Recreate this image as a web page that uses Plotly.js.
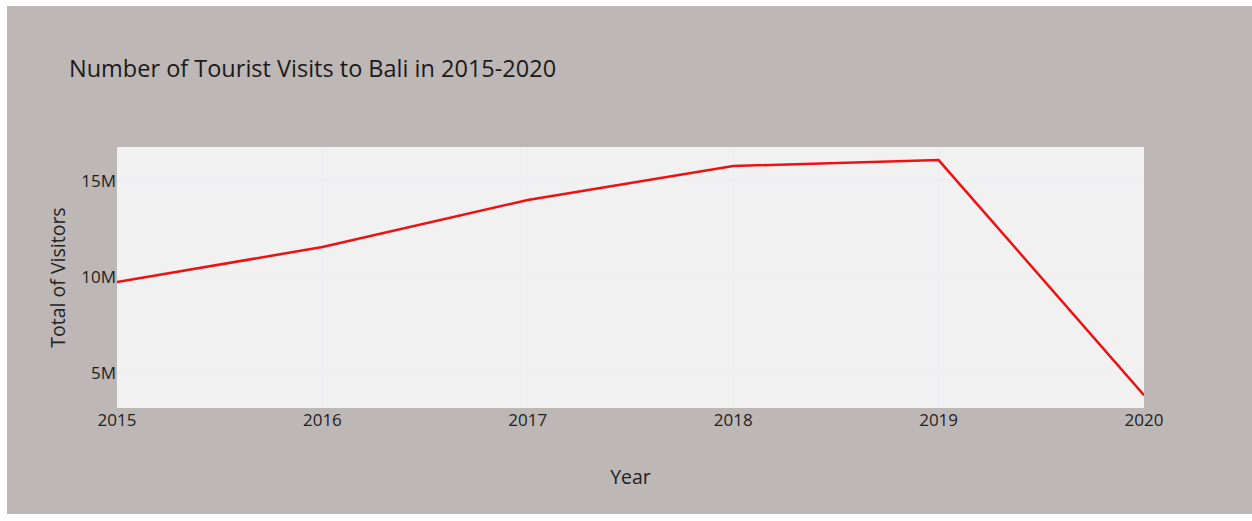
<!DOCTYPE html>
<html>
<head>
<meta charset="utf-8">
<script src="https://cdn.plot.ly/plotly-3.0.1.min.js"></script>
<style>
  html, body { margin: 0; padding: 0; background: #ffffff; overflow: hidden; }
  #chart { position: absolute; left: 7px; top: 6px; width: 1245px; height: 508px; }
</style>
</head>
<body>
<div id="chart"></div>
<script>
const years = [2015, 2016, 2017, 2018, 2019, 2020];
const visitors = [9740000, 11560000, 14010000, 15780000, 16090000, 3850000];
const yTickVals = [5000000, 10000000, 15000000];
const yTickText = ["5M", "10M", "15M"];

const trace = {
  x: years,
  y: visitors,
  type: 'scatter',
  mode: 'lines',
  line: { color: '#ee1111', width: 2.5 },
  hoverinfo: 'x+y'
};

const layout = {
  width: 1245,
  height: 508,
  paper_bgcolor: '#bdb7b6',
  plot_bgcolor: '#f1f1f1',
  font: { family: '"Open Sans", sans-serif', color: '#222', size: 17 },
  margin: { l: 110, r: 108, t: 141, b: 106, pad: 0 },
  title: {
    text: 'Number of Tourist Visits to Bali in 2015-2020',
    font: { size: 23.5, color: '#1a1a1a' },
    xref: 'container', x: 62 / 1245, xanchor: 'left',
    yref: 'container', y: 1 - 63 / 508, yanchor: 'middle'
  },
  xaxis: {
    title: { text: 'Year', font: { size: 19.5, color: '#222' }, standoff: 40 },
    range: [2015, 2020],
    tickmode: 'array',
    tickvals: years,
    ticktext: years.map(String),
    tickfont: { size: 17, color: '#222' },
    gridcolor: '#eceef3',
    zeroline: false,
    showline: false,
    automargin: false
  },
  yaxis: {
    title: { text: 'Total of Visitors', font: { size: 19.5, color: '#222' }, standoff: 10 },
    range: [3180000, 16770000],
    tickmode: 'array',
    tickvals: yTickVals,
    ticktext: yTickText,
    tickfont: { size: 17, color: '#222' },
    gridcolor: '#eceef3',
    zeroline: false,
    showline: false,
    automargin: false
  },
  showlegend: false
};

Plotly.newPlot('chart', [trace], layout, { displayModeBar: false, responsive: false });
</script>
</body>
</html>
